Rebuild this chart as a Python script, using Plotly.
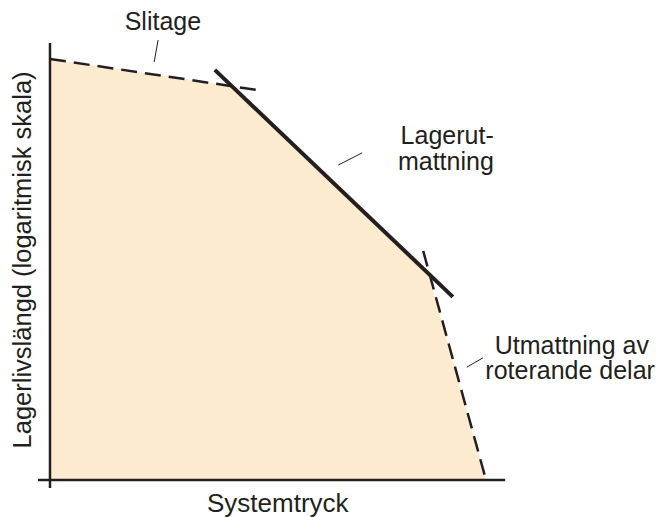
import plotly.graph_objects as go

# Data units: x = systemtryck (0-100), y = lagerlivslängd (0-100)
area_x = [0, 41.7, 86.7, 100, 0, 0]
area_y = [100, 93.6, 49.2, 0, 0, 100]

slitage_x = [0, 47.7]
slitage_y = [100, 92.6]

lager_x = [37.8, 92.4]
lager_y = [97.4, 43.5]

rot_x = [85.6, 100]
rot_y = [54.4, 0]

yaxis_x = [0, 0]
yaxis_y = [103.8, -1.9]
xaxis_x = [-2.75, 104.4]
xaxis_y = [0, 0]

leaders = [
    ([24.8, 23.9], [104.5, 99.3]),
    ([71.6, 66.1], [77.7, 74.8]),
    ([99.3, 95.6], [29.0, 26.8]),
]

labels = ["Slitage", "Lagerut-", "mattning", "Utmattning av", "roterande delar"]
label_x = [25.9, 91.1, 90.8, 119.7, 119.3]
label_y = [108.4, 81.2, 75.1, 31.4, 25.4]

INK = "#231f20"
FILL = "#fdebcf"

fig = go.Figure()
fig.add_trace(go.Scatter(x=area_x, y=area_y, fill="toself", fillcolor=FILL,
                         mode="lines", line=dict(width=0), hoverinfo="skip"))
fig.add_trace(go.Scatter(x=slitage_x, y=slitage_y, mode="lines",
                         line=dict(color=INK, width=2.5, dash="16px,8px")))
fig.add_trace(go.Scatter(x=rot_x, y=rot_y, mode="lines",
                         line=dict(color=INK, width=2.5, dash="16px,8px")))
fig.add_trace(go.Scatter(x=lager_x, y=lager_y, mode="lines",
                         line=dict(color=INK, width=4)))
fig.add_trace(go.Scatter(x=yaxis_x, y=yaxis_y, mode="lines",
                         line=dict(color=INK, width=2.5)))
fig.add_trace(go.Scatter(x=xaxis_x, y=xaxis_y, mode="lines",
                         line=dict(color=INK, width=2.5)))
for lx, ly in leaders:
    fig.add_trace(go.Scatter(x=lx, y=ly, mode="lines",
                             line=dict(color=INK, width=1)))

fig.add_trace(go.Scatter(x=label_x, y=label_y, mode="text", text=labels,
                         textposition="middle center", cliponaxis=False,
                         textfont=dict(size=25, color=INK)))

fig.add_annotation(x=52.3, y=-5.46, text="Systemtryck", showarrow=False,
                   font=dict(size=26, color=INK))
fig.add_annotation(x=-6.5, y=52.3, text="Lagerlivslängd (logaritmisk skala)",
                   textangle=-90, showarrow=False, font=dict(size=25.5, color=INK))

# page body has an 8px margin: figure starts at (8, 8) and runs to the window edge
fig.update_layout(
    width=657, height=509,
    margin=dict(l=0, r=0, t=0, b=0),
    paper_bgcolor="white", plot_bgcolor="white",
    showlegend=False,
    font=dict(family="Liberation Sans, Arial, sans-serif", color=INK),
    xaxis=dict(range=[-9.63, 141.06], visible=False),
    yaxis=dict(range=[-8.79, 112.1], visible=False),
)

fig.write_html("out.html")
